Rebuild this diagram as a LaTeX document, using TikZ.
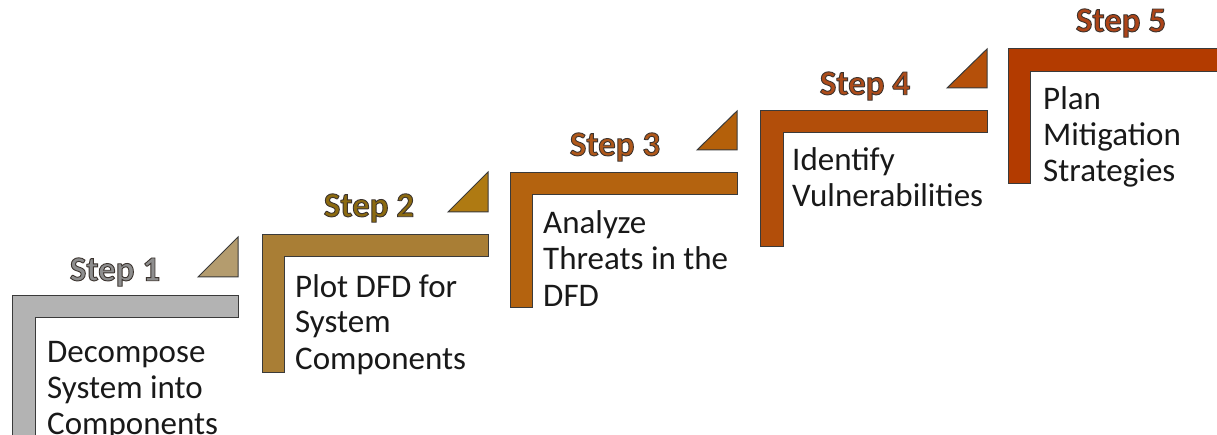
\documentclass[tikz,border=0pt]{standalone}
\usepackage{fontspec}
\setmainfont{Carlito}
\definecolor{barA}{HTML}{B3B3B3}
\definecolor{triA}{HTML}{B49C6E}
\definecolor{barB}{HTML}{A97E35}
\definecolor{triB}{HTML}{AF7A12}
\definecolor{barC}{HTML}{B4630F}
\definecolor{triC}{HTML}{B4600A}
\definecolor{barD}{HTML}{B24E0A}
\definecolor{triD}{HTML}{B5500A}
\definecolor{barE}{HTML}{B33B00}
\definecolor{labA}{HTML}{8E8E8E}
\definecolor{labB}{HTML}{8C6A10}
\definecolor{labC}{HTML}{B0581A}
\definecolor{labD}{HTML}{AD4C1A}
\definecolor{labE}{HTML}{AD4418}
\definecolor{edge}{HTML}{3A3A3A}
\tikzset{
  body/.style={anchor=base west, inner sep=0pt, align=left,
    font=\fontsize{33}{36}\selectfont, text=black!90},
  steplab/.style={inner sep=0pt, font=\fontsize{35}{38}\selectfont\bfseries}
}
\newcommand{\steptext}[2]{\textcolor{#1}{\special{pdf:literal direct 2 Tr 0.9 w 0.23 0.2 0.18 RG}#2\special{pdf:literal direct 0 Tr}}}
\begin{document}
\begin{tikzpicture}[x=1pt,y=-1pt]
\useasboundingbox (0,0) rectangle (1217,435);
\clip (0,0) rectangle (1217,435);
% Step 1
\fill[barA, draw=edge, line width=1pt] (12,296) -- (238,296) -- (238,318) -- (35,318) -- (35,440) -- (12,440) -- cycle;
\fill[triA, draw=edge, line width=1pt] (198,277) -- (238,277) -- (238,237) -- cycle;
\node[steplab] (s1) at (115,272) {\steptext{labA}{Step 1}};
\node[body] (t1) at (47,434) {Decompose\\System into\\Components};
% Step 2
\fill[barB, draw=edge, line width=1pt] (262,235) -- (488,235) -- (488,257) -- (284,257) -- (284,372) -- (262,372) -- cycle;
\fill[triB, draw=edge, line width=1pt] (448,212) -- (488,212) -- (488,172) -- cycle;
\node[steplab] (s2) at (369,208) {\steptext{labB}{Step 2}};
\node[body] (t2) at (295,369) {Plot DFD for\\System\\Components};
% Step 3
\fill[barC, draw=edge, line width=1pt] (510,173) -- (737,173) -- (737,195) -- (532,195) -- (532,308) -- (510,308) -- cycle;
\fill[triC, draw=edge, line width=1pt] (697,150) -- (737,150) -- (737,111) -- cycle;
\node[steplab] (s3) at (615,147) {\steptext{labC}{Step 3}};
\node[body] (t3) at (543,306) {Analyze\\Threats in the\\DFD};
% Step 4
\fill[barD, draw=edge, line width=1pt] (760,111) -- (987,111) -- (987,133) -- (783,133) -- (783,247) -- (760,247) -- cycle;
\fill[triD, draw=edge, line width=1pt] (947,88) -- (987,88) -- (987,49) -- cycle;
\node[steplab] (s4) at (865,86) {\steptext{labD}{Step 4}};
\node[body] (t4) at (792,207) {Identify\\Vulnerabilities};
% Step 5
\fill[barE, draw=edge, line width=1pt] (1008,49) -- (1225,49) -- (1225,72) -- (1030,72) -- (1030,184) -- (1008,184) -- cycle;
\node[steplab] (s5) at (1121,23) {\steptext{labE}{Step 5}};
\node[body] (t5) at (1043,182) {Plan\\Mitigation\\Strategies};
\end{tikzpicture}
\end{document}
